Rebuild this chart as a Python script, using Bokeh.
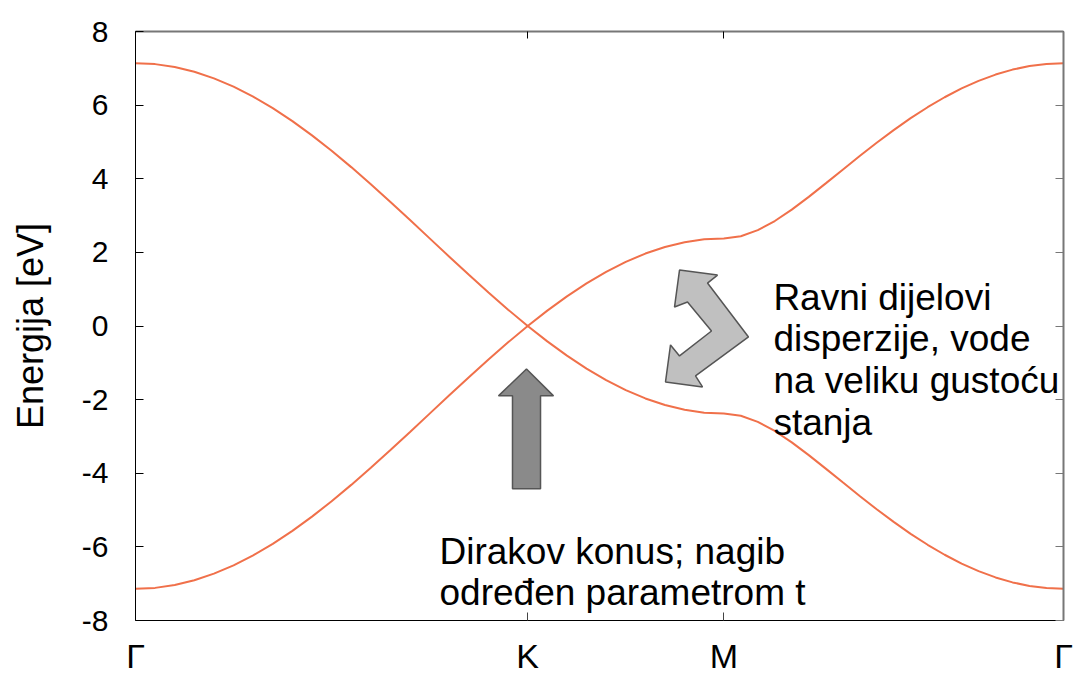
from bokeh.plotting import figure
from bokeh.models import Range1d, LinearAxis, FixedTicker, Label
from bokeh.embed import file_html
from bokeh.resources import INLINE

# ---------------- data ----------------
# k-path position (Gamma - K - M - Gamma), in units of |Gamma-M|
K_PATH = [0.0, 0.0577, 0.1155, 0.1732, 0.2309, 0.2887, 0.3464, 0.4041, 0.4619, 0.5196,
          0.5774, 0.6351, 0.6928, 0.7506, 0.8083, 0.8660, 0.9238, 0.9815, 1.0392, 1.0970,
          1.1547,
          1.2124, 1.2702, 1.3279, 1.3856, 1.4434, 1.5011, 1.5588, 1.6166, 1.6743, 1.7321,
          1.7821, 1.8321, 1.8821, 1.9321, 1.9821, 2.0321, 2.0821, 2.1321, 2.1821, 2.2321,
          2.2821, 2.3321, 2.3821, 2.4321, 2.4821, 2.5321, 2.5821, 2.6321, 2.6821, 2.7321]

# conduction band energy [eV]
UPPER_BAND = [7.140, 7.114, 7.036, 6.907, 6.728, 6.502, 6.231, 5.917, 5.565, 5.178,
              4.760, 4.316, 3.851, 3.370, 2.877, 2.380, 1.883, 1.390, 0.909, 0.444,
              0.000,
              0.418, 0.805, 1.157, 1.471, 1.742, 1.968, 2.147, 2.276, 2.354, 2.380,
              2.438, 2.603, 2.852, 3.161, 3.507, 3.874, 4.247, 4.617, 4.978, 5.322,
              5.645, 5.943, 6.214, 6.453, 6.659, 6.830, 6.965, 7.062, 7.120, 7.140]

# valence band energy [eV]
LOWER_BAND = [-7.140, -7.114, -7.036, -6.907, -6.728, -6.502, -6.231, -5.917, -5.565, -5.178,
              -4.760, -4.316, -3.851, -3.370, -2.877, -2.380, -1.883, -1.390, -0.909, -0.444,
              0.000,
              -0.418, -0.805, -1.157, -1.471, -1.742, -1.968, -2.147, -2.276, -2.354, -2.380,
              -2.438, -2.603, -2.852, -3.161, -3.507, -3.874, -4.247, -4.617, -4.978, -5.322,
              -5.645, -5.943, -6.214, -6.453, -6.659, -6.830, -6.965, -7.062, -7.120, -7.140]

X_TICKS = [0.0, 1.1547, 1.7321, 2.7321]
X_TICK_LABELS = ["\u0393", "K", "M", "\u0393"]

Y_TICKS = [-8, -6, -4, -2, 0, 2, 4, 6, 8]
Y_TICK_LABELS = ["-8", "-6", "-4", "-2", "0", "2", "4", "6", "8"]

Y_LABEL = "Energija [eV]"

NOTE_DIRAC = ["Dirakov konus; nagib", "odre\u0111en parametrom t"]
NOTE_FLAT = ["Ravni dijelovi", "disperzije, vode", "na veliku gusto\u0107u", "stanja"]

# annotation arrow outlines (data coordinates)
DIRAC_ARROW_X = [1.1511, 1.2306, 1.1924, 1.1924, 1.1099, 1.1099, 1.0687]
DIRAC_ARROW_Y = [-1.166, -1.898, -1.898, -4.420, -4.420, -1.898, -1.898]

FLAT_ARROW_X = [1.6016, 1.7135, 1.6840, 1.8047, 1.6487, 1.6693, 1.5604, 1.5751, 1.6016, 1.6958, 1.6251, 1.5869]
FLAT_ARROW_Y = [1.519, 1.383, 1.166, -0.298, -1.356, -1.654, -1.519, -0.515, -0.814, -0.136, 0.651, 0.515]

# ---------------- figure ----------------
SANS = "Liberation Sans"
LINE_COLOR = "#F0704A"

p = figure(width=1076, height=677,
           x_range=Range1d(X_TICKS[0], X_TICKS[-1]), y_range=Range1d(Y_TICKS[0], Y_TICKS[-1]),
           output_backend="svg", toolbar_location=None,
           min_border_left=135, min_border_right=13, min_border_top=31, min_border_bottom=56)
p.outline_line_color = None
p.xgrid.visible = False
p.ygrid.visible = False
p.background_fill_color = "white"
p.border_fill_color = "white"

# left axis
ya = p.yaxis[0]
ya.ticker = FixedTicker(ticks=Y_TICKS)
ya.major_label_overrides = {t: s for t, s in zip(Y_TICKS, Y_TICK_LABELS)}
ya.major_label_text_font = SANS
ya.major_label_text_font_size = "30px"
ya.major_label_text_color = "black"
ya.major_label_standoff = 27
ya.major_tick_in = 8
ya.major_tick_out = 0
ya.minor_tick_in = 0
ya.minor_tick_out = 0
ya.axis_line_color = "black"
ya.major_tick_line_color = "black"
ya.axis_label = Y_LABEL
ya.axis_label_text_font = SANS
ya.axis_label_text_font_size = "36px"
ya.axis_label_text_font_style = "normal"
ya.axis_label_text_color = "black"
ya.axis_label_standoff = 28

# bottom axis
xa = p.xaxis[0]
xa.ticker = FixedTicker(ticks=X_TICKS)
xa.major_label_overrides = {t: s for t, s in zip(X_TICKS, X_TICK_LABELS)}
xa.major_label_text_font = SANS
xa.major_label_text_font_size = "34px"
xa.major_label_text_color = "black"
xa.major_label_standoff = 16
xa.major_tick_in = 8
xa.major_tick_out = 0
xa.minor_tick_in = 0
xa.minor_tick_out = 0
xa.axis_line_color = "black"
xa.major_tick_line_color = "#444444"

# mirrored axes (ticks only, no labels)
top = LinearAxis(ticker=FixedTicker(ticks=X_TICKS),
                 major_label_overrides={t: "" for t in X_TICKS},
                 major_label_text_font_size="10px",
                 major_label_standoff=0, major_tick_in=7, major_tick_out=0,
                 minor_tick_in=0, minor_tick_out=0, axis_line_color="#777777",
                 axis_line_width=2, major_tick_line_color="black")
p.add_layout(top, "above")
right = LinearAxis(ticker=FixedTicker(ticks=Y_TICKS),
                   major_label_overrides={t: "" for t in Y_TICKS},
                   major_label_text_font_size="10px",
                   major_label_standoff=0, major_tick_in=8, major_tick_out=0,
                   minor_tick_in=0, minor_tick_out=0, axis_line_color="#777777",
                   axis_line_width=2, major_tick_line_color="#777777")
p.add_layout(right, "right")

# bands
p.line(K_PATH, UPPER_BAND, line_color=LINE_COLOR, line_width=2)
p.line(K_PATH, LOWER_BAND, line_color=LINE_COLOR, line_width=2)

# arrows
p.patch(DIRAC_ARROW_X, DIRAC_ARROW_Y, fill_color="#8A8A8A", line_color="#555555", line_width=1.5)
p.patch(FLAT_ARROW_X, FLAT_ARROW_Y, fill_color="#C0C0C0", line_color="#555555", line_width=1.5)

# notes
for i, s in enumerate(NOTE_DIRAC):
    p.add_layout(Label(x=0.895, y=-6.12 - 1.13 * i, text=s, text_align="left",
                       text_baseline="alphabetic", text_font=SANS, text_font_size="37px",
                       text_color="black"))
for i, s in enumerate(NOTE_FLAT):
    p.add_layout(Label(x=1.878, y=0.786 - 1.139 * i, text=s, text_align="left",
                       text_baseline="alphabetic", text_font=SANS, text_font_size="37px",
                       text_color="black"))

open("out.html", "w").write(file_html(p, INLINE))
